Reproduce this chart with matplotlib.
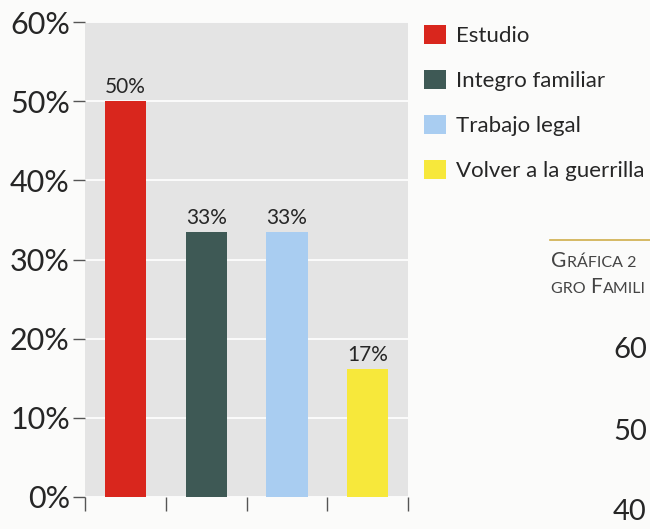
import matplotlib
matplotlib.use("Agg")
import matplotlib.pyplot as plt
from matplotlib.patches import Patch
from matplotlib.lines import Line2D

# -----------------------------
# DATA
# -----------------------------
categories = ["Estudio", "Integro familiar", "Trabajo legal", "Volver a la guerrilla"]
values = [50, 33.5, 33.5, 16.2]
value_labels = ["50%", "33%", "33%", "17%"]
bar_colors = ["#d9261d", "#3e5955", "#a9cdf1", "#f7e83b"]
y_ticks = [0, 10, 20, 30, 40, 50, 60]
y_tick_labels = ["0%", "10%", "20%", "30%", "40%", "50%", "60%"]

plt.rcParams["font.family"] = ["Lato", "DejaVu Sans"]
text_color = "#262626"

fig = plt.figure(figsize=(6.5, 5.29), dpi=100)
fig.patch.set_facecolor("#fbfbfa")
ax = fig.add_axes([0.131, 0.0605, 0.497, 0.8975])
ax.set_facecolor("#e4e4e4")

x = list(range(len(categories)))
bars = ax.bar(x, values, width=0.51, color=bar_colors, zorder=3)
for b, lab in zip(bars, value_labels):
    ax.text(b.get_x() + b.get_width() / 2, b.get_height() + 0.5, lab,
            ha="center", va="bottom", fontsize=15, color=text_color, zorder=4)

ax.set_xlim(-0.5, 3.5)
ax.set_ylim(0, 60)
ax.set_yticks(y_ticks)
ax.set_yticklabels(y_tick_labels, fontsize=22, color=text_color)
ax.set_xticks([i - 0.5 for i in range(len(categories) + 1)])
ax.set_xticklabels([])
ax.tick_params(axis="y", length=9, width=1, color="#555555", pad=2)
ax.tick_params(axis="x", length=10, width=1, color="#555555", direction="out")
ax.grid(axis="y", color="white", linewidth=1.2, zorder=1)
for s in ax.spines.values():
    s.set_visible(False)

# -----------------------------
# LEGEND
# -----------------------------
handles = [Patch(facecolor=c, edgecolor="none") for c in bar_colors]
fig.legend(handles, categories, loc="upper left", bbox_to_anchor=(0.629, 0.983),
           frameon=False, fontsize=16, handlelength=0.95, handleheight=0.95,
           handletextpad=0.45, labelspacing=1.08, labelcolor=text_color,
           borderaxespad=0.3)

# -----------------------------
# NEXT CHART (cut off at page edge)
# -----------------------------
fig.add_artist(Line2D([550 / 650, 1.0], [1 - 240 / 529, 1 - 240 / 529],
                      color="#cfae4a", linewidth=1.2))

renderer = fig.canvas.get_renderer()


def small_caps(x_px, y_px, pieces):
    # pieces: (text, fontsize); placed one after another
    for txt, size in pieces:
        t = fig.text(x_px / 650, 1 - y_px / 529, txt, fontsize=size, color="#444444")
        x_px += t.get_window_extent(renderer).width + 0.5


small_caps(551, 267, [("G", 15), ("RÁFICA 2", 11.5)])
small_caps(551, 293, [("GRO ", 11.5), ("F", 15), ("AMILI", 11.5)])
for yy, lab in [(350, "60"), (432, "50"), (512, "40")]:
    fig.text(613 / 650, 1 - yy / 529, lab, fontsize=21, color=text_color, va="center")

fig.savefig("out.png", dpi=100, facecolor=fig.get_facecolor())
